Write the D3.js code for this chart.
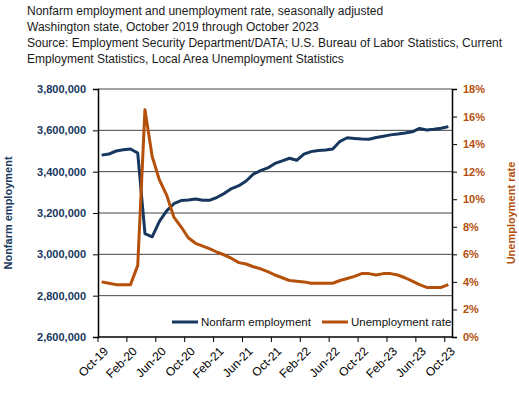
<!DOCTYPE html>
<html>
<head>
<meta charset="utf-8">
<script src="https://cdn.jsdelivr.net/npm/d3@7"></script>
<style>
  body { margin: 0; background: #fff; }
  text { font-family: "Liberation Sans", Arial, sans-serif; }
</style>
</head>
<body>
<div id="chart"></div>
<script>
// monthly categories, Oct-19 through Oct-23
var months = ["Oct-19","Nov-19","Dec-19","Jan-20","Feb-20","Mar-20","Apr-20","May-20","Jun-20","Jul-20","Aug-20","Sep-20",
  "Oct-20","Nov-20","Dec-20","Jan-21","Feb-21","Mar-21","Apr-21","May-21","Jun-21","Jul-21","Aug-21","Sep-21",
  "Oct-21","Nov-21","Dec-21","Jan-22","Feb-22","Mar-22","Apr-22","May-22","Jun-22","Jul-22","Aug-22","Sep-22",
  "Oct-22","Nov-22","Dec-22","Jan-23","Feb-23","Mar-23","Apr-23","May-23","Jun-23","Jul-23","Aug-23","Sep-23","Oct-23"];

// nonfarm employment
var nonfarm = [3480000,3485000,3500000,3506000,3510000,3490000,3100000,3085000,3160000,3210000,3245000,3260000,
  3263000,3268000,3262000,3262000,3276000,3295000,3318000,3332000,3355000,3388000,3405000,3418000,
  3440000,3452000,3465000,3455000,3485000,3497000,3502000,3505000,3510000,3547000,3564000,3561000,
  3558000,3557000,3565000,3571000,3578000,3582000,3587000,3593000,3609000,3602000,3605000,3610000,3618000];

// unemployment rate, percent
var unemp = [4.0,3.9,3.8,3.8,3.8,5.2,16.5,13.1,11.4,10.3,8.7,8.0,
  7.2,6.8,6.6,6.4,6.15,5.95,5.7,5.4,5.3,5.1,4.95,4.75,
  4.5,4.3,4.1,4.05,4.0,3.9,3.9,3.9,3.9,4.1,4.25,4.4,
  4.6,4.6,4.5,4.6,4.6,4.5,4.3,4.05,3.8,3.6,3.6,3.6,3.8];

var leftTicks = [2600000,2800000,3000000,3200000,3400000,3600000,3800000];
var rightTicks = [0,2,4,6,8,10,12,14,16,18];
var titleLines = ["Nonfarm employment and unemployment rate, seasonally adjusted",
  "Washington state, October 2019 through October 2023",
  "Source: Employment Security Department/DATA; U.S. Bureau of Labor Statistics, Current",
  "Employment Statistics, Local Area Unemployment Statistics"];

var navy = "#17375e", rust = "#b5500b";

var margin = {top: 89, right: 67, bottom: 64, left: 98},
    width = 519 - margin.left - margin.right,
    height = 401 - margin.top - margin.bottom;

var root = d3.select("#chart").append("svg")
    .attr("width", 519)
    .attr("height", 401);

// title block
root.append("g").selectAll("text")
  .data(titleLines)
  .enter().append("text")
    .attr("x", 27)
    .attr("y", function(d, i) { return 15 + i * 16; })
    .style("font-size", "12px")
    .style("fill", "#1a1a1a")
    .text(function(d) { return d; });

var svg = root.append("g")
    .attr("transform", "translate(" + margin.left + "," + margin.top + ")");

var x = d3.scaleBand().domain(months).range([0, width]);
var y = d3.scaleLinear().domain([2600000, 3800000]).range([height, 0]);
var y2 = d3.scaleLinear().domain([0, 18]).range([height, 0]);

// gridlines
svg.append("g").selectAll("line")
  .data(leftTicks.slice(1))
  .enter().append("line")
    .attr("x1", 0).attr("x2", width)
    .attr("y1", function(d) { return y(d); })
    .attr("y2", function(d) { return y(d); })
    .attr("stroke", "#444")
    .attr("stroke-width", 1);

// left axis
var yAxis = svg.append("g")
    .call(d3.axisLeft(y).tickValues(leftTicks).tickSize(5).tickPadding(7).tickFormat(d3.format(",")));
yAxis.select(".domain").attr("stroke", "#000").attr("stroke-width", 1.5);
yAxis.selectAll("text").style("font-size", "11px").style("font-weight", "bold").style("fill", navy);

// right axis
var y2Axis = svg.append("g")
    .attr("transform", "translate(" + width + ",0)")
    .call(d3.axisRight(y2).tickValues(rightTicks).tickSize(5).tickPadding(6).tickFormat(function(d) { return d + "%"; }));
y2Axis.select(".domain").attr("stroke", "#000").attr("stroke-width", 1.5);
y2Axis.selectAll("text").style("font-size", "11px").style("font-weight", "bold").style("fill", rust);

// bottom axis, ticks at band edges every 4 months
var shown = months.filter(function(d, i) { return i % 4 == 0; });
var xAxis = svg.append("g").attr("transform", "translate(0," + height + ")");
xAxis.append("line").attr("x1", 0).attr("x2", width).attr("stroke", "#000").attr("stroke-width", 1.5);
xAxis.selectAll(".tk")
  .data(shown)
  .enter().append("line")
    .attr("x1", function(d) { return x(d); })
    .attr("x2", function(d) { return x(d); })
    .attr("y1", 0).attr("y2", 5)
    .attr("stroke", "#000");
xAxis.selectAll(".lbl")
  .data(shown)
  .enter().append("text")
    .attr("transform", function(d) { return "translate(" + (x(d) + 5) + ",9) rotate(-45)"; })
    .attr("text-anchor", "end")
    .attr("dy", "0.7em")
    .style("font-size", "12px")
    .style("fill", "#000")
    .text(function(d) { return d; });

// axis titles
root.append("text")
    .attr("transform", "translate(12," + (margin.top + height / 2) + ") rotate(-90)")
    .attr("text-anchor", "middle")
    .style("font-size", "11px").style("font-weight", "bold").style("fill", navy)
    .text("Nonfarm employment");
root.append("text")
    .attr("transform", "translate(515," + (margin.top + height / 2) + ") rotate(-90)")
    .attr("text-anchor", "middle")
    .style("font-size", "11px").style("font-weight", "bold").style("fill", rust)
    .text("Unemployment rate");

var cx = function(d, i) { return x(months[i]) + x.bandwidth() / 2; };

// nonfarm line
svg.append("path")
  .datum(nonfarm)
  .attr("fill", "none")
  .attr("stroke", navy)
  .attr("stroke-width", 3)
  .attr("stroke-linejoin", "round")
  .attr("d", d3.line().x(cx).y(function(d) { return y(d); }));

// unemployment line
svg.append("path")
  .datum(unemp)
  .attr("fill", "none")
  .attr("stroke", rust)
  .attr("stroke-width", 3)
  .attr("stroke-linejoin", "round")
  .attr("d", d3.line().x(cx).y(function(d) { return y2(d); }));

// legend
var legend = [{name: "Nonfarm employment", color: navy, x: 74}, {name: "Unemployment rate", color: rust, x: 224}];
var lg = svg.selectAll(".legend")
  .data(legend)
  .enter().append("g")
    .attr("transform", function(d) { return "translate(" + d.x + "," + (height - 15) + ")"; });
lg.append("line").attr("x1", 0).attr("x2", 26).attr("stroke", function(d) { return d.color; }).attr("stroke-width", 3);
lg.append("text").attr("x", 29).attr("dy", "0.35em")
  .style("font-size", "11.5px").style("fill", "#111")
  .text(function(d) { return d.name; });
</script>
</body>
</html>
